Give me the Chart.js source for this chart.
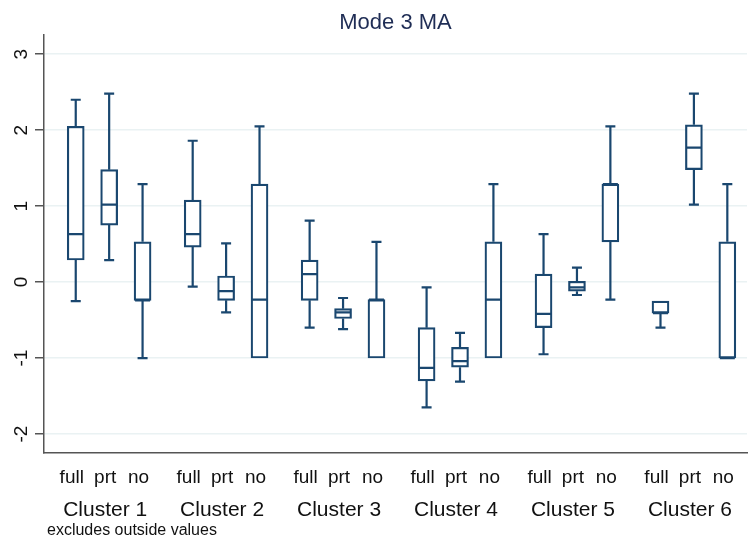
<!DOCTYPE html>
<html>
<head>
<meta charset="utf-8">
<script src="https://cdn.jsdelivr.net/npm/chart.js@4/dist/chart.umd.min.js"></script>
<style>
  html, body { margin: 0; padding: 0; background: #ffffff; }
  #wrap { width: 751px; height: 544px; }
</style>
</head>
<body>
<div id="wrap"><canvas id="c" width="751" height="544"></canvas></div>
<script>
// ---- data ----
const clusters = ['Cluster 1', 'Cluster 2', 'Cluster 3', 'Cluster 4', 'Cluster 5', 'Cluster 6'];
const groups = ['full', 'prt', 'no'];
const yTicks = [-2, -1, 0, 1, 2, 3];
// one entry per box, ordered: Cluster 1 full, prt, no, Cluster 2 full, prt, no, ...
const whiskerLow  = [-0.25, 0.29, -1.00,  -0.06, -0.40, -1.00,  -0.60, -0.62, -1.00,  -1.65, -1.31, -1.00,  -0.95, -0.17, -0.23,  -0.60, 1.02, -1.00];
const q1          = [ 0.29, 0.75, -0.24,   0.46, -0.24, -1.00,  -0.24, -0.48, -1.00,  -1.30, -1.12, -1.00,  -0.60, -0.12,  0.53,  -0.41, 1.48, -1.00];
const median      = [ 0.63, 1.02, -0.24,   0.63, -0.12, -0.23,   0.105,-0.40, -0.23,  -1.13, -1.04, -0.23,  -0.42, -0.07,  1.29,  -0.41, 1.77, -1.00];
const q3          = [ 2.05, 1.48,  0.53,   1.08,  0.08,  1.29,   0.29, -0.35, -0.23,  -0.60, -0.86,  0.53,   0.105, 0.01,  1.29,  -0.25, 2.07,  0.53];
const whiskerHigh = [ 2.40, 2.48,  1.29,   1.86,  0.51,  2.05,   0.81, -0.21,  0.53,  -0.07, -0.67,  1.29,   0.63,  0.19,  2.05,  -0.25, 2.48,  1.29];
const noteText = 'excludes outside values';
const titleText = 'Mode 3 MA';

// ---- layout helpers ----
const GROUP_STEP = 3.5;
const positions = [];
clusters.forEach((c, ci) => groups.forEach((g, gi) => positions.push(ci * GROUP_STEP + gi)));

const LINE = '#1a476f';
const TEXT = '#111111';
const LABEL_SHIFT = -4;

const boxPlugin = {
  id: 'boxExtras',
  afterDatasetsDraw(chart) {
    const ctx = chart.ctx;
    const xs = chart.scales.x, ys = chart.scales.y;
    ctx.save();
    ctx.strokeStyle = LINE;
    ctx.lineWidth = 2.2;
    ctx.lineCap = 'butt';
    const capHalf = 5;
    const boxHalf = 7.5;
    positions.forEach((p, i) => {
      const x = xs.getPixelForValue(p);
      const yl = ys.getPixelForValue(whiskerLow[i]);
      const y1 = ys.getPixelForValue(q1[i]);
      const ym = ys.getPixelForValue(median[i]);
      const y3 = ys.getPixelForValue(q3[i]);
      const yh = ys.getPixelForValue(whiskerHigh[i]);
      ctx.beginPath();
      if (Math.abs(yl - y1) > 0.5) {
        ctx.moveTo(x, y1); ctx.lineTo(x, yl);
        ctx.moveTo(x - capHalf, yl); ctx.lineTo(x + capHalf, yl);
      }
      if (Math.abs(yh - y3) > 0.5) {
        ctx.moveTo(x, y3); ctx.lineTo(x, yh);
        ctx.moveTo(x - capHalf, yh); ctx.lineTo(x + capHalf, yh);
      }
      ctx.moveTo(x - boxHalf, ym); ctx.lineTo(x + boxHalf, ym);
      ctx.stroke();
    });
    ctx.restore();
  },
  afterDraw(chart) {
    const ctx = chart.ctx;
    const xs = chart.scales.x, ys = chart.scales.y;
    ctx.save();
    ctx.fillStyle = TEXT;
    ctx.font = '19px "Liberation Sans", Arial, sans-serif';
    ctx.textAlign = 'center';
    ctx.textBaseline = 'middle';
    yTicks.forEach(v => {
      const y = ys.getPixelForValue(v);
      ctx.save();
      ctx.translate(21.5, y);
      ctx.rotate(-Math.PI / 2);
      ctx.fillText(String(v), 0, 0);
      ctx.restore();
    });
    ctx.font = '21px "Liberation Sans", Arial, sans-serif';
    ctx.textBaseline = 'alphabetic';
    clusters.forEach((c, ci) => {
      const x = xs.getPixelForValue(ci * GROUP_STEP + 1) + LABEL_SHIFT;
      ctx.fillText(c, x, 516);
    });
    ctx.font = '16px "Liberation Sans", Arial, sans-serif';
    ctx.textAlign = 'left';
    ctx.fillText(noteText, 47, 535);
    ctx.restore();
  }
};

const chart = new Chart(document.getElementById('c'), {
  type: 'bar',
  data: {
    datasets: [{
      label: 'IQR',
      data: positions.map((p, i) => ({ x: p, y: [q1[i], q3[i]] })),
      backgroundColor: '#ffffff',
      borderColor: LINE,
      borderWidth: 2.2,
      borderSkipped: false,
      barThickness: 17
    }]
  },
  plugins: [boxPlugin],
  options: {
    responsive: false,
    animation: false,
    events: [],
    layout: { padding: { left: 0, right: 0, top: 0, bottom: 0 } },
    plugins: {
      legend: { display: false },
      tooltip: { enabled: false },
      title: {
        display: true,
        text: titleText,
        fullSize: false,
        color: '#1f2d55',
        font: { family: '"Liberation Sans", Arial, sans-serif', size: 22, weight: 'normal' },
        padding: { top: 10, bottom: -2 }
      }
    },
    scales: {
      x: {
        type: 'linear',
        min: -0.95,
        max: 20.09,
        offset: false,
        grid: { display: false, drawTicks: false },
        border: { display: true, color: '#555555', width: 1.5 },
        afterBuildTicks: s => { s.ticks = positions.map(p => ({ value: p })); },
        afterFit: s => { s.height = 91; },
        ticks: {
          autoSkip: false,
          maxRotation: 0,
          minRotation: 0,
          padding: 13,
          labelOffset: LABEL_SHIFT,
          color: TEXT,
          font: { family: '"Liberation Sans", Arial, sans-serif', size: 19 },
          callback: (v, idx) => groups[idx % groups.length]
        }
      },
      y: {
        type: 'linear',
        min: -2.25,
        max: 3.26,
        afterBuildTicks: s => { s.ticks = yTicks.map(v => ({ value: v })); },
        afterFit: s => { s.width = 44; },
        grid: {
          display: true,
          color: '#eaf2f3',
          lineWidth: 1.5,
          drawTicks: true,
          tickLength: 9,
          tickColor: '#555555',
          tickWidth: 1.5
        },
        border: { display: true, color: '#555555', width: 1.5 },
        ticks: { display: false }
      }
    }
  }
});
</script>
</body>
</html>
